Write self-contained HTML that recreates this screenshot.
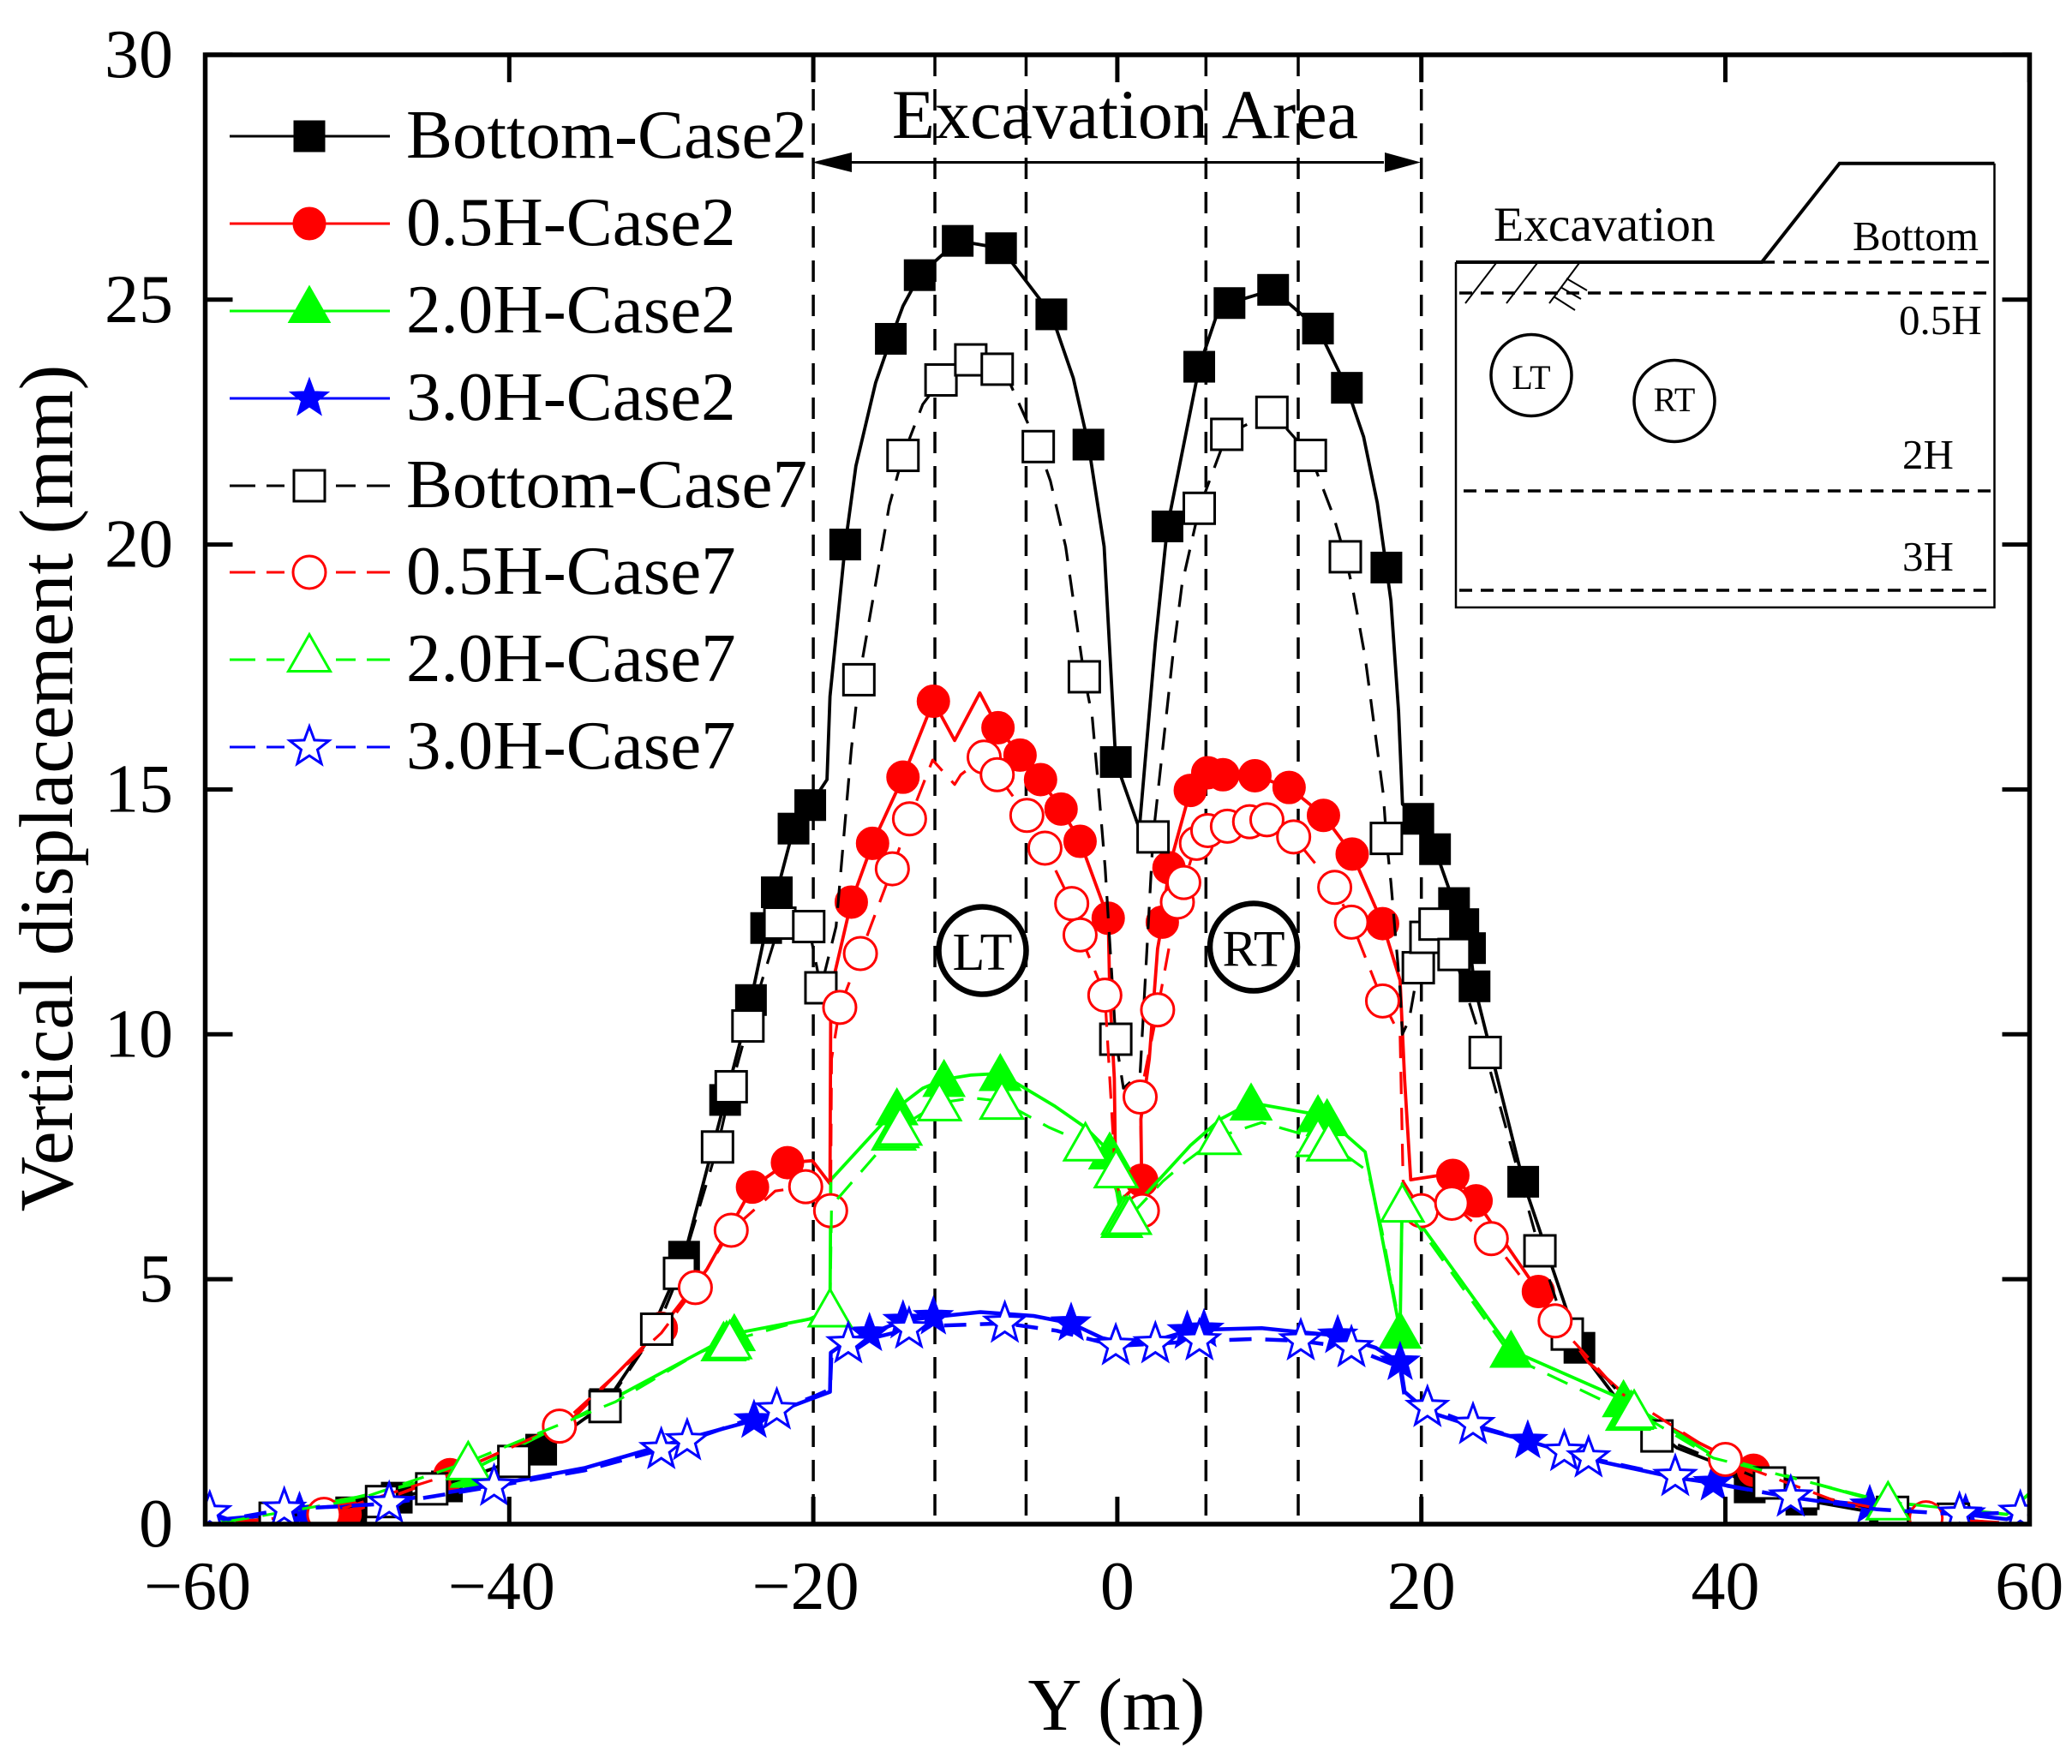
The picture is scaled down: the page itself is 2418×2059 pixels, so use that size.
<!DOCTYPE html>
<html lang="en">
<head>
<meta charset="utf-8">
<title>Vertical displacement vs Y</title>
<style>
html,body{margin:0;padding:0;background:#fff;}
svg{display:block;}
text{font-family:"Liberation Serif",serif;fill:#000;}
</style>
</head>
<body>
<svg id="chart" xmlns="http://www.w3.org/2000/svg" width="2418" height="2059" viewBox="0 0 2418 2059">
  <defs>
    <clipPath id="plot-clip"><rect x="239.5" y="64" width="2129" height="1715"/></clipPath>
  </defs>
  <rect x="0" y="0" width="2418" height="2059" fill="#fff"/>
  <g id="guides" clip-path="url(#plot-clip)"></g>
  <g id="series" clip-path="url(#plot-clip)"></g>

  <g>
    <circle cx="1146.5" cy="1109.5" r="51" fill="none" stroke="#000" stroke-width="6.5"/>
    <text x="1146.5" y="1132" font-size="62" text-anchor="middle">LT</text>
  </g>
  <g>
    <circle cx="1463" cy="1105.5" r="51" fill="none" stroke="#000" stroke-width="6.5"/>
    <text x="1463" y="1127.5" font-size="60" text-anchor="middle">RT</text>
  </g>

  <g>
    <text x="1313" y="161" font-size="82" text-anchor="middle">Excavation Area</text>
    <line x1="990" y1="189.5" x2="1615" y2="189.5" stroke="#000" stroke-width="3"/>
    <polygon points="948,189.5 994,178 994,201" fill="#000"/>
    <polygon points="1658,189.5 1616,178 1616,201" fill="#000"/>
  </g>

  <g fill="none" stroke="#000">
    <path d="M1699 306 V709 H2327.5 V190.7" stroke-width="2.5"/>
    <path d="M1699 306 H2056 L2146.7 190.7 H2327.5" stroke-width="4"/>
    <line x1="2056" y1="306" x2="2327" y2="306" stroke-width="3.5" stroke-dasharray="15 10"/>
    <line x1="1703" y1="342" x2="2325" y2="342" stroke-width="3.5" stroke-dasharray="15 10"/>
    <line x1="1708" y1="573" x2="2325" y2="573" stroke-width="3.5" stroke-dasharray="15 10"/>
    <line x1="1703" y1="689" x2="2322" y2="689" stroke-width="3.5" stroke-dasharray="15 10"/>
    <path d="M1746 307 L1710 354 M1794 307 L1758 354 M1843 307 L1808 354 M1828 325 L1852 339 M1821 335 L1845 349 M1813 346 L1838 362" stroke-width="2"/>
    <ellipse cx="1787" cy="438" rx="47" ry="47.5" stroke-width="3.5"/>
    <ellipse cx="1954" cy="468" rx="47" ry="47.5" stroke-width="3.5"/>
  </g>
  <text x="1743" y="281" font-size="57.5">Excavation</text>
  <text x="2162" y="292" font-size="49">Bottom</text>
  <text x="2216" y="390" font-size="49">0.5H</text>
  <text x="2220" y="547" font-size="49">2H</text>
  <text x="2220" y="666" font-size="49">3H</text>
  <text x="1787" y="454" font-size="40" text-anchor="middle">LT</text>
  <text x="1954" y="480" font-size="40" text-anchor="middle">RT</text>

  <g id="legend" font-size="81">
    <g><line x1="268" y1="159" x2="455" y2="159" stroke="#000" stroke-width="3"/><text x="474" y="184">Bottom-Case2</text></g>
    <g><line x1="268" y1="261" x2="455" y2="261" stroke="#f00" stroke-width="3"/><text x="474" y="286">0.5H-Case2</text></g>
    <g><line x1="268" y1="363" x2="455" y2="363" stroke="#0f0" stroke-width="3"/><text x="474" y="388">2.0H-Case2</text></g>
    <g><line x1="268" y1="465" x2="455" y2="465" stroke="#00f" stroke-width="3"/><text x="474" y="490">3.0H-Case2</text></g>
    <g><line x1="268" y1="567" x2="455" y2="567" stroke="#000" stroke-width="3" stroke-dasharray="30 13 21 60 23 13 27"/><text x="474" y="592">Bottom-Case7</text></g>
    <g><line x1="268" y1="668" x2="455" y2="668" stroke="#f00" stroke-width="3" stroke-dasharray="30 13 21 60 23 13 27"/><text x="474" y="693">0.5H-Case7</text></g>
    <g><line x1="268" y1="770" x2="455" y2="770" stroke="#0f0" stroke-width="3" stroke-dasharray="30 13 21 60 23 13 27"/><text x="474" y="795">2.0H-Case7</text></g>
    <g><line x1="268" y1="872" x2="455" y2="872" stroke="#00f" stroke-width="3" stroke-dasharray="30 13 21 60 23 13 27"/><text x="474" y="897">3.0H-Case7</text></g>
  </g>

  <g id="axes"></g>
  <rect x="239.5" y="64" width="2129" height="1715" fill="none" stroke="#000" stroke-width="5.5"/>
  <text x="1303" y="2019" font-size="87" text-anchor="middle">Y (m)</text>
  <text transform="translate(84 920) rotate(-90)" font-size="89" text-anchor="middle">Vertical displacement (mm)</text>
</svg>
<script>
const xTickValues = [-60, -40, -20, 0, 20, 40, 60];
const yTickValues = [0, 5, 10, 15, 20, 25, 30];
const guideValues = [-20, -12, -6, 5.83, 11.9, 20];

const bottomCase2X = [-58,-50.4,-47.4,-44.1,-37.9,-33.7,-31,-28.5,-25.8,-24.1,-23.1,-22.4,-21.3,-20.2,-19.1,-18.9,-17.9,-17.2,-15.9,-14.9,-14.1,-13,-10.5,-7.65,-4.34,-2.9,-1.9,-0.87,-0.1,1.45,2.5,3.3,5.39,6.5,7.38,10.25,13.2,15.1,16.2,17.1,17.7,18,18.5,18.76,19.8,20.9,22.15,22.76,23.2,23.5,26.7,30.4,31.3,32.9,36.8,39.2,41.6,45,50.5,55,58];
const bottomCase2Y = [0.05,0.24,0.54,0.77,1.52,2.45,3.7,5.46,8.66,10.7,12.17,12.9,14.2,14.68,15.2,16.9,20,21.6,23.3,24.2,24.87,25.5,26.2,26.05,24.7,23.4,22.04,19.96,15.56,14.2,18,20.37,23.63,24.65,24.93,25.2,24.41,23.2,22.2,20.85,19.53,18.85,16.6,14.7,14.4,13.78,12.68,12.25,11.76,10.98,6.99,3.6,3.2,2.54,1.56,1.27,0.75,0.5,0.2,0.1,0.02];
const bottomCase2Plain = [-58,-31,-19.1,-18.9,-17.2,-15.9,-14.1,-2.9,-0.87,1.45,2.5,6.5,16.2,17.1,18,18.5,18.76,31.3,32.9,36.8,39.2,58];

const halfHCase2X = [-58,-50.8,-43.9,-36,-30,-27,-24,-21.7,-20.06,-18.9,-18.85,-18.7,-17.5,-16.1,-14.1,-12.1,-10.7,-9.05,-7.85,-6.4,-5.05,-3.7,-2.45,-0.6,-0.5,-0.2,-0.1,0.2,1.6,1.55,2.1,2.65,2.96,3.4,4.8,5.95,6.95,9.05,11.3,13.56,15.45,17.45,18.6,18.9,19.3,21.8,22.07,23.6,27.7,31,35,38,41.85,46,52,58];
const halfHCase2Y = [0.05,0.2,1.01,2.1,4,5.2,6.88,7.38,7.42,6.95,10.7,11.1,12.7,13.9,15.25,16.8,16,16.97,16.26,15.7,15.2,14.6,13.94,12.37,10.9,9.1,6.85,6.6,7.02,8.27,9.5,11.75,12.29,13.4,14.98,15.34,15.3,15.28,15.04,14.47,13.68,12.26,11.1,9.07,7.03,7.15,7.12,6.6,4.75,3.3,2.2,1.7,1.1,0.55,0.15,0.03];
const halfHCase2Plain = [-58,-36,-27,-20.06,-18.9,-18.85,-18.7,-10.7,-9.05,-0.5,-0.2,-0.1,0.2,1.55,2.1,2.65,18.6,18.9,19.3,21.8,31,35,38,46,52,58];

const twoHCase2X = [-60,-58.8,-50,-42.5,-32.8,-27.2,-25.2,-20.2,-18.9,-18.85,-14.5,-12.8,-11.4,-9.6,-7.7,-4.1,-2.1,-0.5,-0.1,0.3,2.5,4.8,6.8,8.8,13.2,13.8,16.3,17.2,18.6,18.75,20,25.9,33.3,39.2,49.7,50.7,58.5,60];
const twoHCase2Y = [0.63,0.05,0.55,1.1,2.62,3.55,3.89,4.19,4.35,7.03,8.5,8.9,9.08,9.17,9.2,8.53,8.1,7.6,6.9,6.2,6.95,7.73,8.27,8.6,8.36,8.28,7.6,6.2,3.94,6.95,6.1,3.55,2.54,1.4,0.5,0.45,0.2,0.63];
const twoHCase2Plain = [-60,-58.8,-50,-32.8,-27.2,-20.2,-18.9,-18.85,-12.8,-9.6,-4.1,-2.1,-0.1,2.5,4.8,6.8,16.3,17.2,18.75,20,39.2,49.7,58.5,60];

const threeHCase2X = [-60,-58.8,-53.8,-47,-41,-35,-28.3,-23.9,-20.2,-18.9,-18.85,-17.7,-16.3,-14.1,-12.1,-9,-5.5,-3.04,-1,0.5,2.5,4.6,5.7,9.5,12,14.5,17,18.6,18.9,20.4,23.4,27,31,36.7,39.2,44.3,49.5,55.8,58.5,60];
const threeHCase2Y = [0.3,0.1,0.24,0.5,0.8,1.15,1.75,2.12,2.55,2.7,3.5,3.75,3.89,4.15,4.23,4.33,4.25,4.1,3.8,3.7,3.75,3.94,3.97,4,3.92,3.85,3.6,3.3,2.7,2.3,2,1.7,1.33,0.95,0.84,0.55,0.38,0.2,0.1,0.3];
const threeHCase2Plain = [-60,-58.8,-47,-41,-35,-28.3,-20.2,-18.9,-18.85,-17.7,-9,-5.5,-1,0.5,2.5,9.5,12,17,18.9,20.4,23.4,31,36.7,44.3,58.5,60];

const bottomCase7X = [-55.4,-48.4,-45.1,-39.7,-33.7,-30.3,-28.8,-26.3,-25.4,-24.3,-22.2,-20.3,-19.5,-18.5,-17.5,-17,-15,-14.1,-12.8,-11.6,-9.64,-7.9,-7,-5.2,-4.4,-3.4,-2.17,-1.66,-1.2,-0.8,-0.1,0.4,1.5,1.95,2.35,3.64,4.26,5.39,7.2,10.17,12.7,14.2,15,15.5,16.3,17.5,17.7,18,18.6,18.75,19.2,19.8,20.3,20.9,22.15,24.2,27.8,29.6,35.5,42.9,45.1,51,55];
const bottomCase7Y = [0.12,0.46,0.72,1.28,2.4,3.98,5.12,7.7,8.93,10.17,12.27,12.2,10.95,12.2,15.8,17.24,20.8,21.82,22.86,23.36,23.77,23.58,23.25,22,21.3,19.96,17.3,16.5,14.9,13.4,9.9,8.9,9.2,11.75,14.03,17.7,19.2,20.74,22.25,22.7,21.82,20.6,19.75,19.07,17.7,14.9,14,13.1,10.9,10,10.3,11.36,11.98,12.25,11.63,9.63,5.58,3.88,1.8,0.84,0.63,0.24,0.1];
const bottomCase7Plain = [-18.5,-17.5,-15,-12.8,-7,-4.4,-3.4,-1.66,-1.2,-0.8,0.4,1.5,1.95,3.64,4.26,14.2,15.5,16.3,17.5,18,18.6,18.75,19.2];

const halfHCase7X = [-58,-52.2,-44,-36.7,-30,-27.76,-25.4,-22.5,-20.5,-18.86,-18.8,-18.26,-16.9,-14.8,-13.67,-12.15,-10.7,-10.3,-8.76,-7.9,-5.95,-4.76,-3,-2.45,-0.82,-0.1,0.5,1.65,1.5,2.65,3.95,4.37,5.2,5.95,7.24,8.7,9.84,11.6,14.3,15.4,17.45,18.6,18.8,20,22,24.6,28.8,33,40,47,53.2,58];
const halfHCase7Y = [0.05,0.2,1,2,3.9,4.83,6,6.8,6.89,6.4,9.5,10.55,11.65,13.38,14.4,15.6,15.1,15.3,15.66,15.3,14.47,13.8,12.67,12.03,10.8,7,6.4,6.4,8.72,10.5,12.7,13.1,13.9,14.16,14.25,14.34,14.38,14.03,13,12.29,10.68,9.97,7,6.4,6.55,5.83,4.15,2.7,1.32,0.5,0.13,0.02];
const halfHCase7Plain = [-58,-44,-30,-22.5,-18.8,-12.15,-10.7,-10.3,-0.1,0.5,18.6,18.8,33,47,58];

const twoHCase7X = [-60,-58.6,-50,-42.7,-33,-27.5,-25.9,-25.7,-25.5,-20.2,-18.9,-18.8,-16,-14.7,-14.5,-14.3,-11.7,-9.5,-7.6,-4.5,-2.1,-0.08,0.4,0.6,0.8,3,4.5,6.7,9.5,13.2,13.9,16.5,17.4,18.6,18.75,20,26,33.6,33.8,34,39.2,50.7,58.5,60];
const twoHCase7Y = [0.63,0.05,0.5,1.27,2.5,3.5,3.7,3.72,3.74,4.2,4.39,6.5,7.5,8,8.05,8.1,8.6,8.7,8.63,8.1,7.78,7.23,6.28,6.28,6.28,7,7.4,7.91,8.2,7.87,7.78,7.2,6,4,6.53,6,3.4,2.28,2.3,2.32,1.35,0.45,0.2,0.63];
const twoHCase7Plain = [-60,-58.6,-50,-33,-27.5,-20.2,-18.8,-16,-9.5,-4.5,3,4.5,9.5,16.5,17.4,18.6,20,26,39.2,58.5,60];

const threeHCase7X = [-59.7,-58.5,-54.8,-47.9,-41,-35,-30,-28.3,-22.4,-20,-18.9,-18.8,-17.7,-13.7,-12,-7.4,-4,-0.1,2.5,5.4,9,12.07,15.4,18.6,18.9,20.4,23.4,29.4,31,36.7,44.3,50,55.4,59.4];
const threeHCase7Y = [0.23,0.1,0.3,0.42,0.77,1.1,1.52,1.7,2.33,2.6,2.75,3.5,3.68,3.98,4.05,4.1,3.95,3.64,3.68,3.74,3.78,3.74,3.6,3.2,2.6,2.38,2.03,1.48,1.35,0.97,0.55,0.3,0.2,0.24];
const threeHCase7Plain = [-58.5,-35,-20,-18.9,-18.8,-12,-4,9,18.6,18.9,50];

const NS = 'http://www.w3.org/2000/svg';
function xScale(v) { return 239.5 + (v + 60) * 17.74; }
function yScale(v) { return 1779 - v * 57.17; }
function make(tag, attrs) {
  const el = document.createElementNS(NS, tag);
  for (const k in attrs) el.setAttribute(k, attrs[k]);
  return el;
}
function starPoints(cx, cy, R, r) {
  const pts = [];
  for (let i = 0; i < 10; i++) {
    const rad = i % 2 === 0 ? R : r;
    const a = -Math.PI / 2 + i * Math.PI / 5;
    pts.push((cx + rad * Math.cos(a)).toFixed(1) + ',' + (cy + rad * Math.sin(a)).toFixed(1));
  }
  return pts.join(' ');
}
function makeMarker(shape, cx, cy, color, filled) {
  const style = { fill: filled ? color : '#fff', stroke: color, 'stroke-width': filled ? 1 : 3 };
  if (shape === 'square') return make('rect', Object.assign({ x: cx - 18, y: cy - 18, width: 36, height: 36 }, style));
  if (shape === 'circle') return make('circle', Object.assign({ cx: cx, cy: cy, r: 19 }, style));
  if (shape === 'triangle') return make('polygon', Object.assign({ points: (cx) + ',' + (cy - 23) + ' ' + (cx - 24.5) + ',' + (cy + 20) + ' ' + (cx + 24.5) + ',' + (cy + 20) }, style));
  return make('polygon', Object.assign({ points: starPoints(cx, cy, 24, 10) }, style));
}
function drawSeries(name, xs, ys, plain, color, shape, filled, dashed) {
  const group = make('g', {});
  
  
  const n = Math.min(xs.length, ys.length);
  let d = '';
  for (let i = 0; i < n; i++) d += (i ? 'L' : 'M') + xScale(xs[i]).toFixed(1) + ' ' + yScale(ys[i]).toFixed(1);
  const width = shape === 'star' ? 4.5 : (dashed ? 3.2 : 3.8);
  const path = make('path', { d: d, fill: 'none', stroke: color, 'stroke-width': width, 'stroke-linejoin': 'round' });
  if (dashed) path.setAttribute('stroke-dasharray', '26 16');
  
  
  group.appendChild(path);
  for (let i = 0; i < n; i++) {
    if (plain.indexOf(xs[i]) !== -1) continue;
    const m = makeMarker(shape, xScale(xs[i]), yScale(ys[i]), color, filled);
    
    
    group.appendChild(m);
  }
  document.getElementById('series').appendChild(group);
}

guideValues.forEach(function (v) {
  const g = make('line', { x1: xScale(v), x2: xScale(v), y1: 64, y2: 1779, stroke: '#000', 'stroke-width': 3.5, 'stroke-dasharray': '25 15' });
  
  
  document.getElementById('guides').appendChild(g);
});

drawSeries('series-bottom-case2', bottomCase2X, bottomCase2Y, bottomCase2Plain, '#000', 'square', true, false);
drawSeries('series-0-5h-case2', halfHCase2X, halfHCase2Y, halfHCase2Plain, '#f00', 'circle', true, false);
drawSeries('series-2-0h-case2', twoHCase2X, twoHCase2Y, twoHCase2Plain, '#0f0', 'triangle', true, false);
drawSeries('series-3-0h-case2', threeHCase2X, threeHCase2Y, threeHCase2Plain, '#00f', 'star', true, false);
drawSeries('series-bottom-case7', bottomCase7X, bottomCase7Y, bottomCase7Plain, '#000', 'square', false, true);
drawSeries('series-0-5h-case7', halfHCase7X, halfHCase7Y, halfHCase7Plain, '#f00', 'circle', false, true);
drawSeries('series-2-0h-case7', twoHCase7X, twoHCase7Y, twoHCase7Plain, '#0f0', 'triangle', false, true);
drawSeries('series-3-0h-case7', threeHCase7X, threeHCase7Y, threeHCase7Plain, '#00f', 'star', false, true);

const axes = document.getElementById('axes');
xTickValues.forEach(function (v) {
  const px = xScale(v);
  const b = make('line', { x1: px, x2: px, y1: 1779, y2: 1747, stroke: '#000', 'stroke-width': 5 });
  
  
  axes.appendChild(b);
  const t = make('line', { x1: px, x2: px, y1: 64, y2: 96, stroke: '#000', 'stroke-width': 5 });
  
  
  axes.appendChild(t);
  const label = make('text', { x: v < 0 ? px - 9 : px, y: 1878, 'font-size': 80, 'text-anchor': 'middle' });
  label.textContent = (v < 0 ? '\u2212' : '') + Math.abs(v);
  
  
  axes.appendChild(label);
});
yTickValues.forEach(function (v) {
  const py = yScale(v);
  const l = make('line', { x1: 239.5, x2: 271.5, y1: py, y2: py, stroke: '#000', 'stroke-width': 5 });
  
  
  axes.appendChild(l);
  const r = make('line', { x1: 2368.5, x2: 2336.5, y1: py, y2: py, stroke: '#000', 'stroke-width': 5 });
  
  
  axes.appendChild(r);
  const label = make('text', { x: 202, y: py + 26, 'font-size': 80, 'text-anchor': 'end' });
  label.textContent = String(v);
  
  
  axes.appendChild(label);
});

const legendEntries = document.getElementById('legend').children;
const legendRowY = [159, 261, 363, 465, 567, 668, 770, 872];
const legendShapes = ['square', 'circle', 'triangle', 'star', 'square', 'circle', 'triangle', 'star'];
const legendColors = ['#000', '#f00', '#0f0', '#00f', '#000', '#f00', '#0f0', '#00f'];
for (let i = 0; i < legendEntries.length; i++) {
  const shape = legendShapes[i];
  const isOpen = i >= 4;
  const cy = legendRowY[i] - (shape === 'triangle' ? 6.5 : 0);
  const marker = makeMarker(shape, 361, cy, legendColors[i], !isOpen);
  
  
  legendEntries[i].appendChild(marker);
}
</script>
</body>
</html>
